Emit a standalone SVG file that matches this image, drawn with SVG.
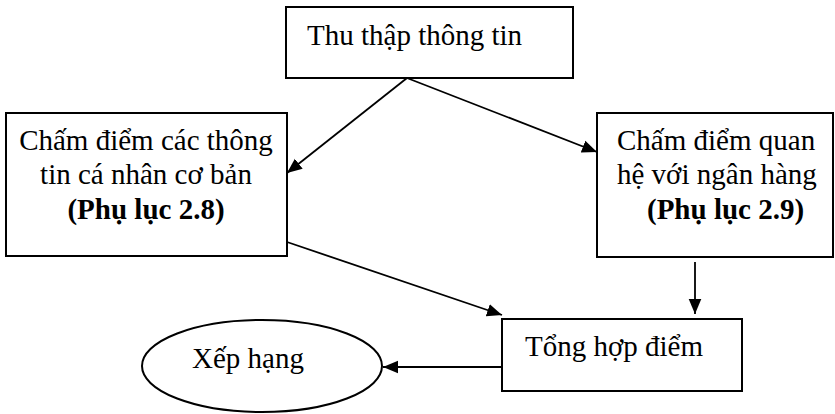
<svg xmlns="http://www.w3.org/2000/svg" width="835" height="414" viewBox="0 0 835 414">
<defs>
<style>
.box{fill:#fff;stroke:#000;stroke-width:2}
.t{font-family:"Liberation Serif","Times New Roman",serif;font-size:29px;fill:#000}
.b{font-weight:bold}
.c{stroke:#000;stroke-width:1.8;fill:none}
</style>
<marker id="ah" viewBox="0 0 10 10" refX="10" refY="5" markerWidth="15" markerHeight="15" markerUnits="userSpaceOnUse" orient="auto">
<path d="M0,0.8 L10,5 L0,9.2 z" fill="#000"/>
</marker>
</defs>
<rect width="835" height="414" fill="#fff"/>
<g id="n1">
<rect class="box" x="286" y="7" width="287" height="71"/>
<text class="t" x="307" y="45">Thu thập thông tin</text>
</g>
<g id="n2">
<rect class="box" x="6" y="113" width="281" height="143"/>
<text class="t" x="146" y="150" text-anchor="middle">Chấm điểm các thông</text>
<text class="t" x="146" y="184" text-anchor="middle">tin cá nhân cơ bản</text>
<text class="t b" x="146" y="219" text-anchor="middle">(Phụ lục 2.8)</text>
</g>
<g id="n3">
<rect class="box" x="597" y="113" width="236" height="144"/>
<text class="t" x="617" y="150">Chấm điểm quan</text>
<text class="t" x="617" y="184">hệ với ngân hàng</text>
<text class="t b" x="647" y="219">(Phụ lục 2.9)</text>
</g>
<g id="n4">
<rect class="box" x="502" y="319" width="240" height="72"/>
<text class="t" x="525" y="356">Tổng hợp điểm</text>
</g>
<g id="n5">
<ellipse class="box" cx="262" cy="366" rx="120" ry="46"/>
<text class="t" x="192" y="368">Xếp hạng</text>
</g>
<g id="connectors">
<line class="c" x1="407" y1="78" x2="287" y2="173" marker-end="url(#ah)"/>
<line class="c" x1="407" y1="78" x2="597" y2="152" marker-end="url(#ah)"/>
<line class="c" x1="287" y1="242" x2="502" y2="315" marker-end="url(#ah)"/>
<line class="c" x1="695" y1="262" x2="695" y2="314" marker-end="url(#ah)"/>
<line class="c" x1="502" y1="367" x2="383" y2="367" marker-end="url(#ah)"/>
</g>
</svg>
